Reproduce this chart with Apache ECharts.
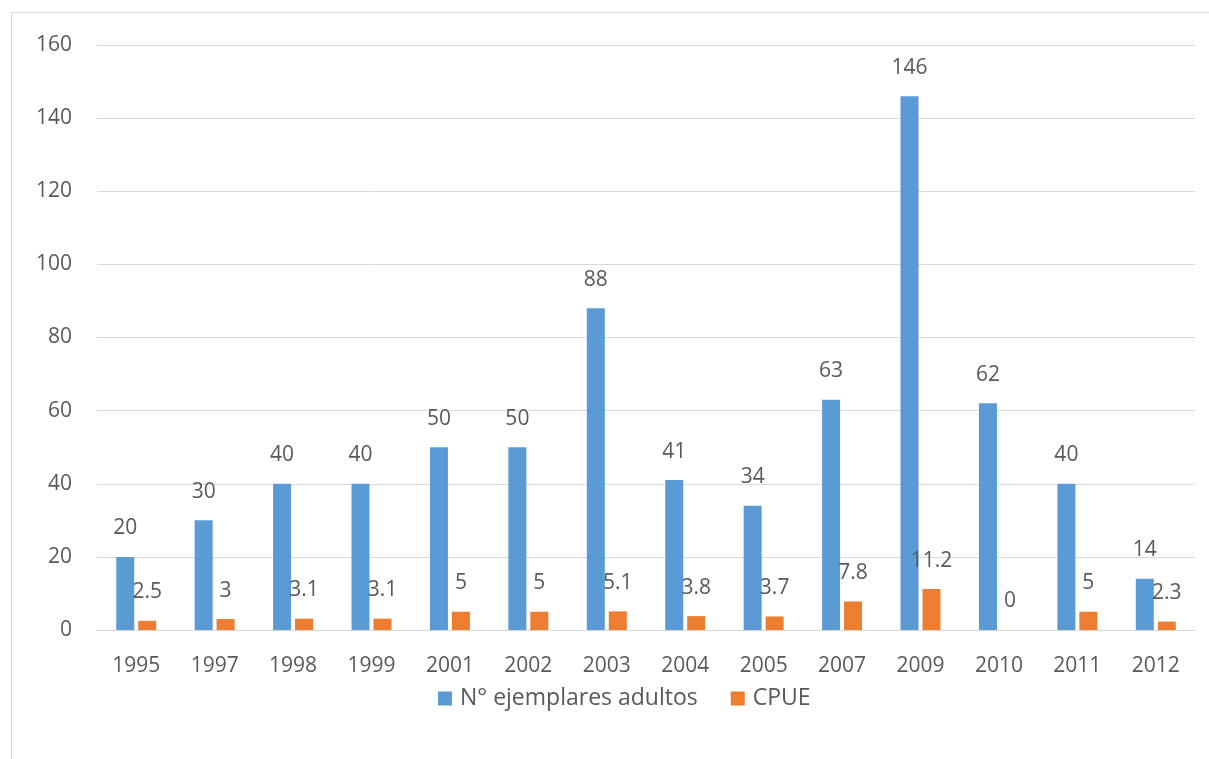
<!DOCTYPE html>
<html>
<head>
<meta charset="utf-8">
<script src="https://cdn.jsdelivr.net/npm/echarts@6/dist/echarts.min.js"></script>
<style>
  html, body { margin: 0; padding: 0; background: #ffffff; }
  #chart { width: 1209px; height: 759px; }
</style>
</head>
<body>
<div id="chart"></div>
<script>
// Years sampled
const years = ['1995', '1997', '1998', '1999', '2001', '2002', '2003', '2004', '2005', '2007', '2009', '2010', '2011', '2012'];
// Number of adult specimens per year
const adultos = [20, 30, 40, 40, 50, 50, 88, 41, 34, 63, 146, 62, 40, 14];
// Catch per unit effort per year
const cpue = [2.5, 3, 3.1, 3.1, 5, 5, 5.1, 3.8, 3.7, 7.8, 11.2, 0, 5, 2.3];

const seriesNames = ['N° ejemplares adultos', 'CPUE'];
const FONT = '"Open Sans", sans-serif';
const TEXT = '#595959';

const chart = echarts.init(document.getElementById('chart'), null, { renderer: 'canvas' });

const labelStyle = {
  show: true,
  position: 'top',
  distance: 18,
  color: TEXT,
  fontFamily: FONT,
  fontSize: 21
};

chart.setOption({
  animation: false,
  backgroundColor: '#ffffff',
  graphic: [{
    type: 'rect',
    shape: { x: 11.5, y: 12.5, width: 1220, height: 780 },
    style: { fill: 'none', stroke: '#d9d9d9', lineWidth: 1 },
    silent: true,
    z: -1
  }],
  grid: { left: 97, right: 14, top: 45, bottom: 129 },
  legend: {
    data: seriesNames,
    bottom: 44,
    left: 433,
    itemWidth: 14,
    itemHeight: 14,
    itemGap: 33,
    icon: 'rect',
    textStyle: { color: TEXT, fontFamily: FONT, fontSize: 23, padding: [0, 0, 0, 3] }
  },
  xAxis: {
    type: 'category',
    data: years,
    axisLine: { lineStyle: { color: '#d9d9d9' } },
    axisTick: { show: false },
    axisLabel: { color: TEXT, fontFamily: FONT, fontSize: 21, margin: 26 }
  },
  yAxis: {
    type: 'value',
    min: 0,
    max: 160,
    interval: 20,
    axisLine: { show: false },
    axisTick: { show: false },
    splitLine: { lineStyle: { color: '#d9d9d9' } },
    axisLabel: { color: TEXT, fontFamily: FONT, fontSize: 21, margin: 25 }
  },
  series: [
    {
      name: seriesNames[0],
      type: 'bar',
      data: adultos,
      barWidth: 18,
      barGap: '22%',
      itemStyle: { color: '#5B9BD5' },
      label: labelStyle
    },
    {
      name: seriesNames[1],
      type: 'bar',
      data: cpue,
      barWidth: 18,
      itemStyle: { color: '#ED7D31' },
      label: labelStyle
    }
  ]
});
</script>
</body>
</html>
